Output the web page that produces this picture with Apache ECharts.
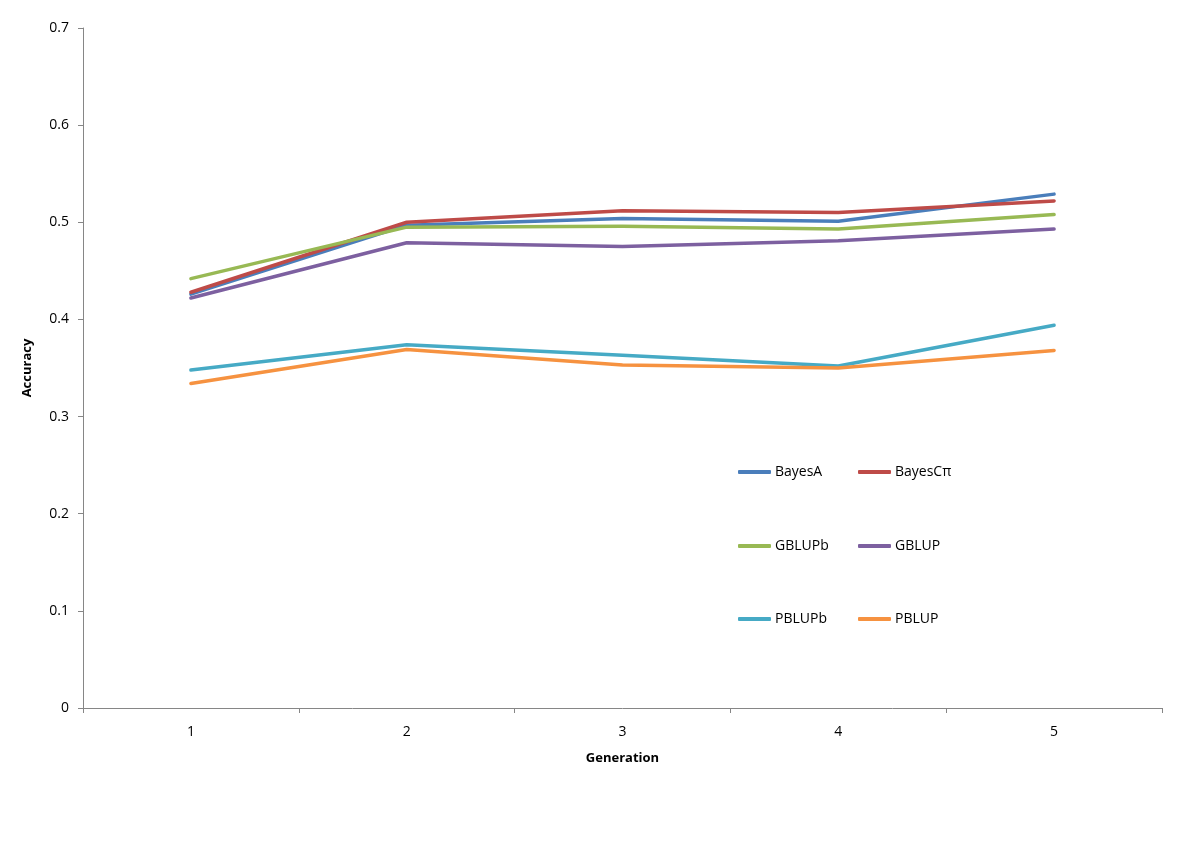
<!DOCTYPE html>
<html>
<head>
<meta charset="utf-8">
<script src="https://cdn.jsdelivr.net/npm/echarts@6/dist/echarts.min.js"></script>
<style>html,body{margin:0;padding:0;background:#fff}#c{width:1200px;height:848px}</style>
</head>
<body>
<div id="c"></div>
<script>
const categories = ['1', '2', '3', '4', '5'];
const bayesA   = [0.426, 0.497, 0.504, 0.501, 0.529];
const bayesCpi = [0.428, 0.500, 0.512, 0.510, 0.522];
const gblupb   = [0.442, 0.495, 0.496, 0.493, 0.508];
const gblup    = [0.422, 0.479, 0.475, 0.481, 0.493];
const pblupb   = [0.348, 0.374, 0.363, 0.352, 0.394];
const pblup    = [0.334, 0.369, 0.353, 0.350, 0.368];
const seriesNames = ['BayesA', 'BayesCπ', 'GBLUPb', 'GBLUP', 'PBLUPb', 'PBLUP'];
const seriesData = [bayesA, bayesCpi, gblupb, gblup, pblupb, pblup];
const colors = ['#4A7EBB', '#BE4B48', '#98B954', '#7D60A0', '#46AAC5', '#F69240'];

const font = '"Open Sans", "DejaVu Sans", sans-serif';
const legendPos = [[738, 465], [858, 465], [738, 539], [858, 539], [738, 612], [858, 612]];

const chart = echarts.init(document.getElementById('c'), null, {renderer: 'canvas'});
chart.setOption({
  animation: false,
  backgroundColor: '#fff',
  color: colors,
  grid: {left: 83, right: 38, top: 28, bottom: 140},
  legend: seriesNames.map((n, i) => ({
    data: [n], left: legendPos[i][0], top: legendPos[i][1], padding: 0,
    itemWidth: 33, itemHeight: 4, icon: 'roundRect', itemGap: 4,
    textStyle: {fontFamily: font, fontSize: 14, color: '#000', padding: [0, 0, 0, -1]}
  })),
  xAxis: {
    type: 'category', data: categories, boundaryGap: true,
    name: 'Generation', nameLocation: 'middle', nameGap: 44,
    nameTextStyle: {fontFamily: font, fontSize: 13, fontWeight: 'bold', color: '#000'},
    axisLine: {lineStyle: {color: '#868686', width: 1}},
    axisTick: {show: true, length: 5, inside: false, lineStyle: {color: '#868686'}},
    axisLabel: {fontFamily: font, fontSize: 14, color: '#000', margin: 17},
    splitLine: {show: false}
  },
  yAxis: {
    type: 'value', min: 0, max: 0.7, interval: 0.1,
    name: 'Accuracy', nameLocation: 'middle', nameGap: 49, nameRotate: 90,
    nameTextStyle: {fontFamily: font, fontSize: 13, fontWeight: 'bold', color: '#000'},
    axisLine: {show: true, lineStyle: {color: '#868686', width: 1}},
    axisTick: {show: true, length: 5, lineStyle: {color: '#868686'}},
    axisLabel: {fontFamily: font, fontSize: 14, color: '#000', margin: 14,
      formatter: v => (Math.round(v * 10) / 10).toString()},
    splitLine: {show: false}
  },
  series: seriesNames.map((n, i) => ({
    name: n, type: 'line', data: seriesData[i], symbol: 'none',
    lineStyle: {width: 3.5, color: colors[i], cap: 'round', join: 'round'},
    itemStyle: {color: colors[i]}
  }))
});
</script>
</body>
</html>
